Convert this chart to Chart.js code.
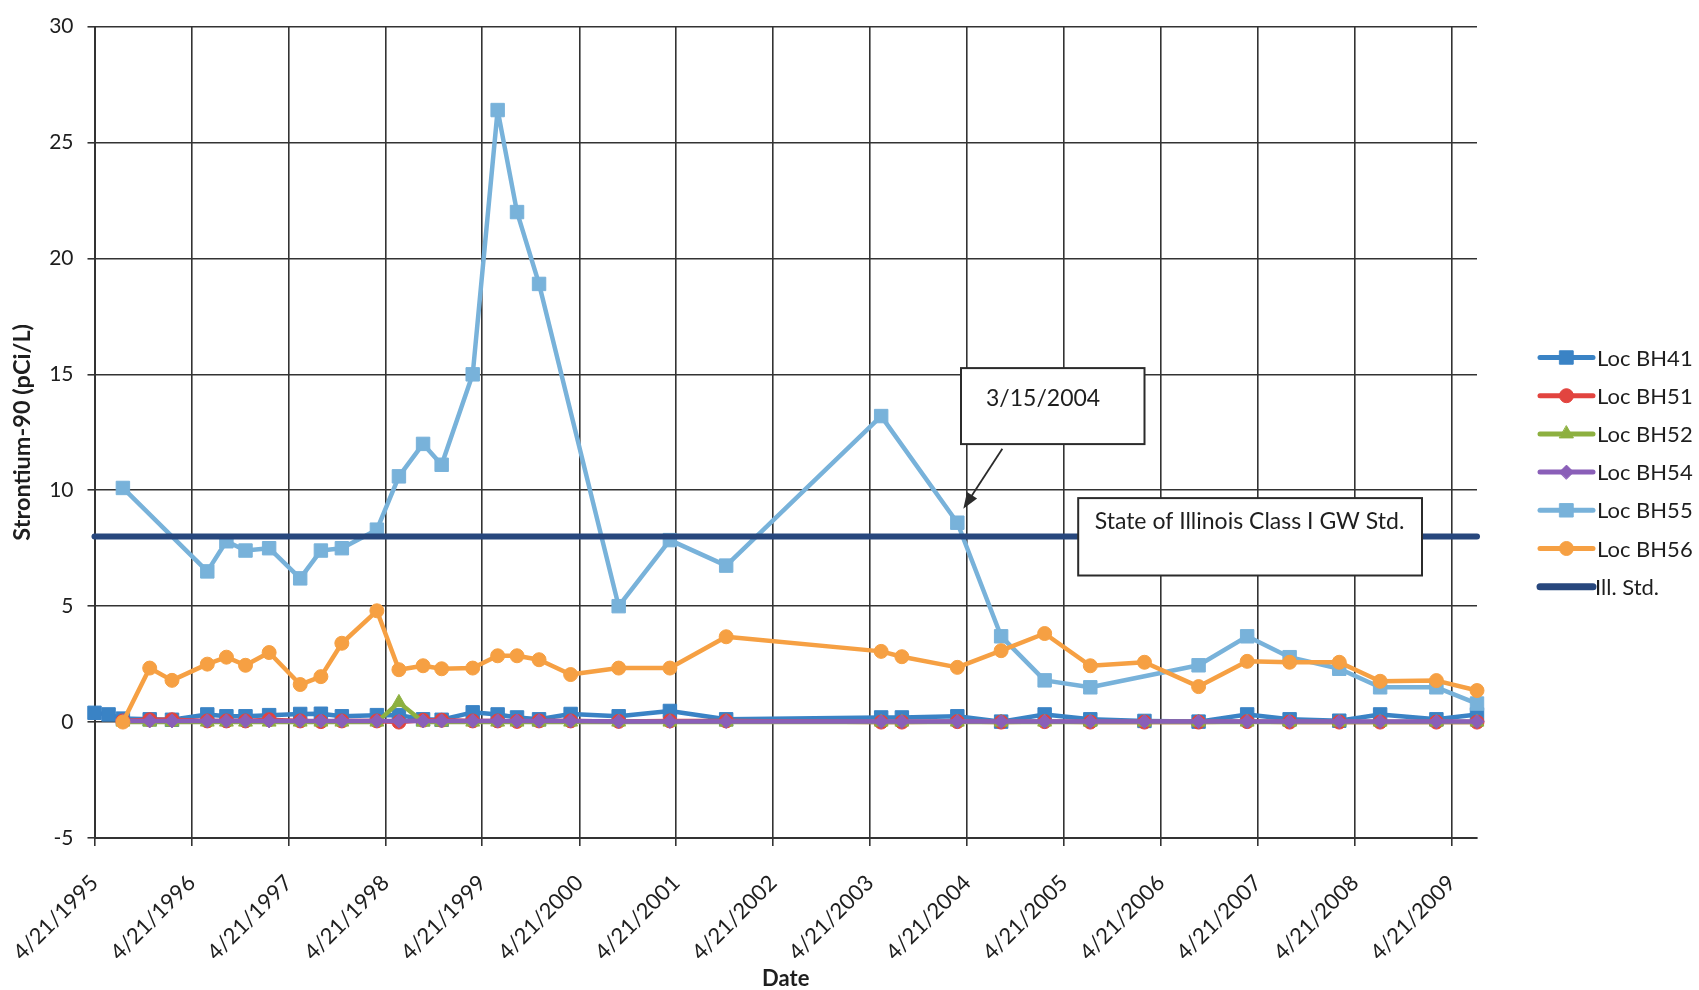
<!DOCTYPE html>
<html>
<head>
<meta charset="utf-8">
<title>Strontium-90 monitoring</title>
<script src="https://cdn.jsdelivr.net/npm/chart.js@4.4.1/dist/chart.umd.min.js"></script>
<style>
  html, body { margin: 0; padding: 0; background: #ffffff; }
  #wrap { width: 1699px; height: 990px; position: relative; }
</style>
</head>
<body>
<div id="wrap"><canvas id="chart" width="1699" height="990"></canvas></div>
<script>
// ---- data -------------------------------------------------------------
const tickLabels = ['4/21/1995', '4/21/1996', '4/21/1997', '4/21/1998', '4/21/1999',
  '4/21/2000', '4/21/2001', '4/21/2002', '4/21/2003', '4/21/2004', '4/21/2005',
  '4/21/2006', '4/21/2007', '4/21/2008', '4/21/2009'];

const sampleDates = ['4/21/1995', '6/13/1995', '8/6/1995', '11/15/1995', '2/7/1996',
  '6/19/1996', '8/30/1996', '11/10/1996', '2/7/1997', '6/4/1997', '8/21/1997',
  '11/8/1997', '3/20/1998', '6/11/1998', '9/10/1998', '11/19/1998', '3/16/1999',
  '6/18/1999', '8/30/1999', '11/21/1999', '3/19/2000', '9/16/2000', '3/28/2001',
  '10/26/2001', '6/2/2003', '8/19/2003', '3/15/2004', '8/27/2004', '2/7/2005',
  '7/29/2005', '2/18/2006', '9/10/2006', '3/12/2007', '8/19/2007', '2/22/2008',
  '7/25/2008', '2/22/2009', '7/25/2009'];

const bh41 = [0.40, 0.33, 0.15, 0.12, 0.10, 0.33, 0.25, 0.25, 0.30, 0.35, 0.36,
  0.25, 0.30, 0.30, 0.12, 0.10, 0.42, 0.33, 0.20, 0.12, 0.35, 0.25, 0.48,
  0.12, 0.20, 0.20, 0.25, 0.02, 0.33, 0.12, 0.05, 0.02, 0.33, 0.12, 0.06,
  0.33, 0.12, 0.33];

const bh51 = [null, null, 0.05, 0.10, 0.10, 0.05, 0.05, 0.05, 0.10, 0.05, 0.02,
  0.05, 0.05, 0.00, 0.08, 0.08, 0.05, 0.05, 0.03, 0.05, 0.05, 0.03, 0.05,
  0.05, 0.00, 0.00, 0.02, 0.00, 0.02, 0.00, 0.00, 0.00, 0.02, 0.00, 0.00,
  0.00, 0.00, 0.00];

const bh52 = [null, null, 0.00, 0.00, 0.00, 0.00, 0.00, 0.00, 0.00, 0.00, 0.00,
  0.00, 0.00, 0.85, 0.00, 0.00, 0.00, 0.00, 0.00, 0.00, 0.00, 0.00, 0.00,
  0.00, 0.00, 0.00, 0.00, 0.00, 0.00, 0.00, 0.00, 0.00, 0.00, 0.00, 0.00,
  0.00, 0.00, 0.00];

const bh54 = [null, null, 0.05, 0.05, 0.05, 0.05, 0.05, 0.05, 0.05, 0.05, 0.05,
  0.05, 0.05, 0.05, 0.05, 0.05, 0.05, 0.05, 0.05, 0.05, 0.05, 0.03, 0.03,
  0.03, 0.02, 0.02, 0.02, 0.02, 0.02, 0.02, 0.02, 0.02, 0.02, 0.02, 0.02,
  0.02, 0.02, 0.02];

const bh55 = [null, null, 10.1, null, null, 6.5, 7.8, 7.4, 7.5, 6.2, 7.4,
  7.5, 8.3, 10.6, 12.0, 11.1, 15.0, 26.4, 22.0, 18.9, null, 5.0, 7.85,
  6.75, 13.2, null, 8.6, 3.7, 1.8, 1.5, null, 2.45, 3.7, 2.8, 2.3,
  1.5, 1.5, 0.8];

const bh56 = [null, null, 0.0, 2.33, 1.8, 2.5, 2.8, 2.45, 3.0, 1.62, 1.96,
  3.4, 4.8, 2.26, 2.43, 2.3, 2.33, 2.86, 2.86, 2.69, 2.05, 2.33, 2.33,
  3.68, 3.05, 2.82, 2.36, 3.08, 3.82, 2.43, 2.58, 1.53, 2.62, 2.58, 2.58,
  1.76, 1.79, 1.36];

const illinoisStd = 8;

const calloutDate = '3/15/2004';
const stdLabel = 'State of Illinois Class I GW Std.';

// ---- helpers ----------------------------------------------------------
function dayNumber(mdy) {
  const [m, d, y] = mdy.split('/').map(Number);
  return Date.UTC(y, m - 1, d) / 86400000;
}

function seriesPoints(values) {
  return sampleDates.map((d, i) => ({ x: dayNumber(d), y: values[i] }));
}

const xMin = dayNumber(tickLabels[0]);
const xMax = dayNumber(sampleDates[sampleDates.length - 1]);

const FONT = 'Lato, "Open Sans", "DejaVu Sans", sans-serif';
Chart.defaults.font.family = FONT;
Chart.defaults.color = '#1e1e1e';

// ---- series styling ---------------------------------------------------
const series = [
  { label: 'Loc BH41', values: bh41, color: '#3a83c5', style: 'rect',     radius: 9.5 },
  { label: 'Loc BH51', values: bh51, color: '#e2443f', style: 'circle',   radius: 7 },
  { label: 'Loc BH52', values: bh52, color: '#8db040', style: 'triangle', radius: 8 },
  { label: 'Loc BH54', values: bh54, color: '#8a5fb8', style: 'rectRot',  radius: 7 },
  { label: 'Loc BH55', values: bh55, color: '#78b2da', style: 'rect',     radius: 9.5 },
  { label: 'Loc BH56', values: bh56, color: '#f6a043', style: 'circle',   radius: 7 }
];

const datasets = series.map((s, i) => ({
  label: s.label,
  data: seriesPoints(s.values),
  borderColor: s.color,
  backgroundColor: s.color,
  pointBackgroundColor: s.color,
  pointBorderColor: s.color,
  pointStyle: s.style,
  pointRadius: s.radius,
  pointBorderWidth: 1,
  borderWidth: 4.5,
  borderJoinStyle: 'round',
  spanGaps: true,
  tension: 0,
  clip: false,
  order: series.length + 1 - i
}));

datasets.push({
  label: 'Ill. Std.',
  data: [{ x: xMin, y: illinoisStd }, { x: xMax, y: illinoisStd }],
  borderColor: '#27477d',
  backgroundColor: '#27477d',
  pointRadius: 0,
  borderWidth: 6,
  borderCapStyle: 'round',
  clip: false,
  order: 0
});

// ---- plugins ----------------------------------------------------------
const sideLegend = {
  id: 'sideLegend',
  afterDraw(chart) {
    const ctx = chart.ctx;
    const x0 = 1540, x1 = 1593, textX = 1597, y0 = 357.5, step = 38.2;
    chart.data.datasets.forEach((ds, i) => {
      const y = y0 + i * step;
      ctx.save();
      ctx.strokeStyle = ds.borderColor;
      ctx.lineWidth = ds.borderWidth + (ds.pointRadius ? 0.5 : 1);
      ctx.lineCap = 'round';
      ctx.beginPath();
      ctx.moveTo(x0, y);
      ctx.lineTo(x1, y);
      ctx.stroke();
      if (ds.pointRadius > 0) {
        ctx.fillStyle = ds.pointBackgroundColor;
        ctx.strokeStyle = ds.pointBorderColor;
        ctx.lineWidth = 1;
        Chart.helpers.drawPoint(ctx, {
          pointStyle: ds.pointStyle, radius: ds.pointRadius, rotation: 0, borderWidth: 1
        }, (x0 + x1) / 2, y);
      }
      ctx.fillStyle = '#1e1e1e';
      ctx.font = '22px ' + FONT;
      ctx.textAlign = 'left';
      ctx.textBaseline = 'middle';
      ctx.fillText(ds.label, ds.pointRadius ? textX : textX - 2, y + 1);
      ctx.restore();
    });
  }
};

function textBox(ctx, left, top, w, h, text, tx, ty) {
  ctx.save();
  ctx.fillStyle = '#ffffff';
  ctx.fillRect(left, top, w, h);
  ctx.strokeStyle = '#2b2b2b';
  ctx.lineWidth = 2;
  ctx.strokeRect(left, top, w, h);
  ctx.fillStyle = '#1e1e1e';
  ctx.font = '23px ' + FONT;
  ctx.textAlign = 'left';
  ctx.textBaseline = 'middle';
  ctx.fillText(text, left + tx, top + ty);
  ctx.restore();
}

const callouts = {
  id: 'callouts',
  afterDatasetsDraw(chart) {
    const { ctx, chartArea: a, scales: { x, y } } = chart;
    const idx = sampleDates.indexOf(calloutDate);
    const px = x.getPixelForValue(dayNumber(calloutDate));
    const py = y.getPixelForValue(bh55[idx]);

    // arrow from the date box down to the sample
    const sx = px + 45, sy = py - 74;
    const ex = px + 6, ey = py - 14;
    const ang = Math.atan2(ey - sy, ex - sx);
    ctx.save();
    ctx.strokeStyle = '#2b2b2b';
    ctx.fillStyle = '#2b2b2b';
    ctx.lineWidth = 1.8;
    ctx.beginPath();
    ctx.moveTo(sx, sy);
    ctx.lineTo(ex - Math.cos(ang) * 10, ey - Math.sin(ang) * 10);
    ctx.stroke();
    ctx.beginPath();
    ctx.moveTo(ex, ey);
    ctx.lineTo(ex - Math.cos(ang) * 16 + Math.sin(ang) * 6, ey - Math.sin(ang) * 16 - Math.cos(ang) * 6);
    ctx.lineTo(ex - Math.cos(ang) * 16 - Math.sin(ang) * 6, ey - Math.sin(ang) * 16 + Math.cos(ang) * 6);
    ctx.closePath();
    ctx.fill();
    ctx.restore();

    textBox(ctx, a.left + 866.5, a.top + 341.5, 183.5, 76, calloutDate, 25, 30);
    textBox(ctx, a.left + 983.7, a.top + 471.5, 343.8, 77.4, stdLabel, 16.5, 23.5);
  }
};

// ---- chart ------------------------------------------------------------
new Chart(document.getElementById('chart'), {
  type: 'line',
  data: { datasets },
  options: {
    responsive: false,
    animation: false,
    devicePixelRatio: 1,
    layout: { padding: { left: 0, top: 23, right: 222, bottom: 0 } },
    plugins: {
      legend: { display: false },
      tooltip: { enabled: false }
    },
    scales: {
      x: {
        type: 'linear',
        min: xMin,
        max: xMax,
        afterBuildTicks(scale) {
          scale.ticks = tickLabels.map(l => ({ value: dayNumber(l) }));
        },
        afterFit(scale) {
          scale.height = 152;
          // the rotated labels fit inside the y-axis gutter, so no extra side padding
          scale.paddingLeft = 0;
          scale.paddingRight = 0;
        },
        ticks: {
          autoSkip: false,
          minRotation: 45,
          maxRotation: 45,
          padding: 24,
          color: '#1e1e1e',
          font: { size: 22 },
          callback: (v, i) => tickLabels[i]
        },
        grid: { color: '#333333', lineWidth: 1.6, tickLength: 8, drawTicks: true },
        border: { color: '#333333', width: 2 },
        title: {
          display: true,
          text: 'Date',
          color: '#1e1e1e',
          font: { size: 22, weight: 'bold', lineHeight: 1 },
          padding: { top: 0, bottom: 0 }
        }
      },
      y: {
        min: -5,
        max: 30,
        afterFit(scale) { scale.width = 94.5; },
        ticks: {
          stepSize: 5,
          padding: 14,
          color: '#1e1e1e',
          font: { size: 21 }
        },
        grid: { color: '#333333', lineWidth: 1.6, tickLength: 7, drawTicks: true },
        border: { color: '#333333', width: 2 },
        title: {
          display: true,
          text: 'Strontium-90 (pCi/L)',
          color: '#1e1e1e',
          font: { size: 23.5, weight: 'bold', lineHeight: 1.2 },
          padding: { top: 8, bottom: 0 }
        }
      }
    }
  },
  plugins: [callouts, sideLegend]
});
</script>
</body>
</html>
